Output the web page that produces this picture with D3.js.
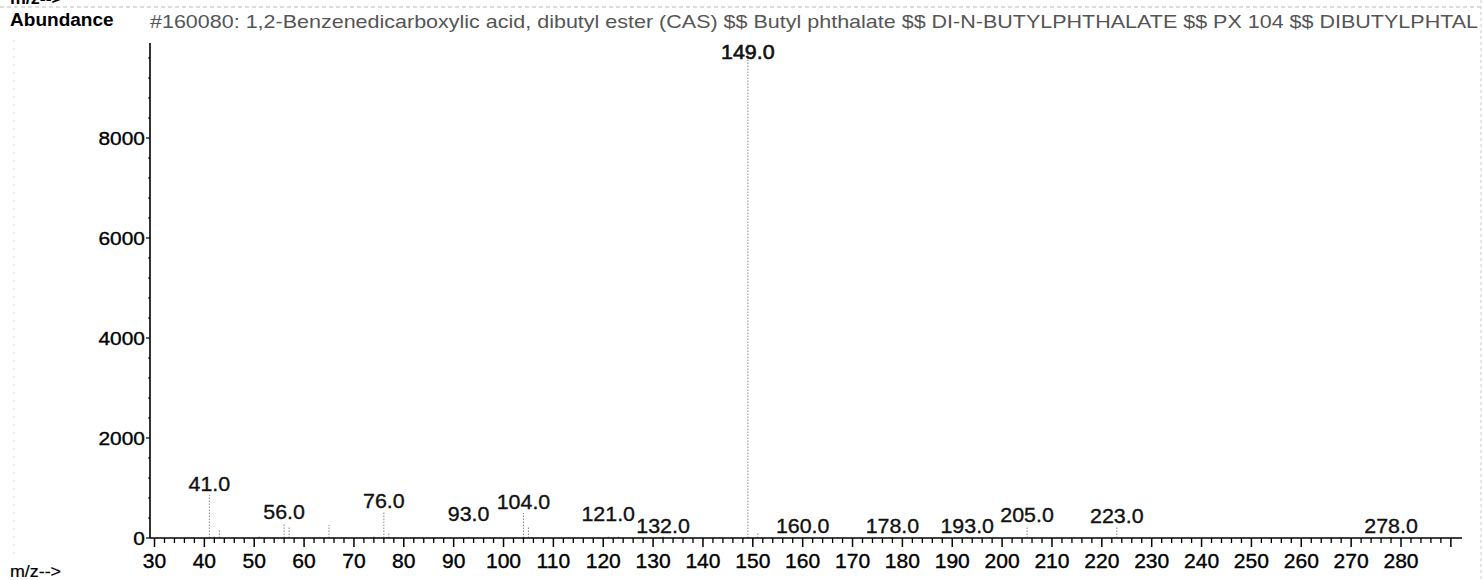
<!DOCTYPE html>
<html><head><meta charset="utf-8">
<script src="https://cdn.jsdelivr.net/npm/d3@7"></script>
<style>
html,body{margin:0;padding:0;background:#fff;}
svg{display:block;font-family:"Liberation Sans",Arial,sans-serif;}
</style></head>
<body><svg id="chart" width="1483" height="580"></svg>
<script>
// ---- data ----
const title = "#160080: 1,2-Benzenedicarboxylic acid, dibutyl ester (CAS) $$ Butyl phthalate $$ DI-N-BUTYLPHTHALATE $$ PX 104 $$ DIBUTYLPHTAL";
const yLabel = "Abundance";
const xLabel = "m/z-->";
const peakMz =        [41, 42, 43, 51, 56, 57, 65, 74, 76, 77, 93, 104, 105, 121, 123, 132, 149, 151, 160, 167, 178, 193, 205, 223, 278];
const peakAbundance = [860, 60, 160, 40, 300, 220, 260, 60, 530, 110, 20, 500, 240, 40, 50, 30, 9999, 90, 20, 20, 20, 20, 240, 230, 20];
const labeledMz = [41, 56, 76, 93, 104, 121, 132, 149, 160, 178, 193, 205, 223, 278];
const xTicks = [30, 40, 50, 60, 70, 80, 90, 100, 110, 120, 130, 140, 150, 160, 170, 180, 190, 200, 210, 220, 230, 240, 250, 260, 270, 280, 290];
const xTickLabels = ["30","40","50","60","70","80","90","100","110","120","130","140","150","160","170","180","190","200","210","220","230","240","250","260","270","280",""];
const yTicks = [0, 2000, 4000, 6000, 8000];

// ---- layout ----
const svg = d3.select("#chart");
const W = 1483, H = 580;
const axisX = 150, axisY = 538, axisTop = 43, axisRight = 1462;
const x = d3.scaleLinear().domain([30, 280]).range([154.5, 1401]);
const y = d3.scaleLinear().domain([0, 8000]).range([axisY, 138]);
const yTopVal = y.invert(axisTop);

svg.append("rect").attr("width", W).attr("height", H).attr("fill", "#fff");

// scan frame lines
svg.append("line").attr("x1", 0).attr("x2", W).attr("y1", 7).attr("y2", 7)
  .attr("stroke", "#bbb").attr("stroke-width", 1).attr("stroke-dasharray", "4,3");
svg.append("line").attr("x1", 1481).attr("x2", 1481).attr("y1", 0).attr("y2", H)
  .attr("stroke", "#ccc").attr("stroke-width", 1).attr("stroke-dasharray", "3,3");
svg.append("line").attr("x1", 14).attr("x2", 14).attr("y1", 40).attr("y2", 560)
  .attr("stroke", "#ddd").attr("stroke-width", 1).attr("stroke-dasharray", "2,6");

function stretchedText(g, tx, ty, txt, size, anchor, sx, weight, fill, sw) {
  const t = g.append("text")
    .attr("transform", `translate(${tx},${ty}) scale(${sx},1)`)
    .attr("text-anchor", anchor)
    .attr("font-size", size)
    .attr("font-weight", weight || "normal")
    .attr("fill", fill || "#000")
    .text(txt);
  if (sw) t.attr("stroke", fill || "#000").attr("stroke-width", sw);
  return t;
}

// top clipped label
stretchedText(svg, 10, 4, xLabel, 17, "start", 1.05, "bold", "#000");

// Abundance
stretchedText(svg, 10, 26, yLabel, 18.5, "start", 1.03, "bold", "#000");

// title
svg.append("text").attr("x", 150).attr("y", 28)
  .attr("font-size", 18.5).attr("fill", "#555")
  .attr("textLength", 1328).attr("lengthAdjust", "spacingAndGlyphs")
  .text(title);

// peaks
const peaks = peakMz.map((m, i) => ({ mz: m, v: peakAbundance[i] }));
svg.append("g").selectAll("line").data(peaks).join("line")
  .attr("x1", d => x(d.mz)).attr("x2", d => x(d.mz))
  .attr("y1", axisY).attr("y2", d => y(Math.min(d.v, yTopVal)))
  .attr("stroke", "#888").attr("stroke-width", 1).attr("stroke-dasharray", "1.5,1.5");

// y axis
svg.append("line").attr("x1", axisX).attr("x2", axisX).attr("y1", axisTop).attr("y2", axisY)
  .attr("stroke", "#000").attr("stroke-width", 1.6);
const yMinor = d3.range(400, yTopVal, 400).filter(v => v % 2000 !== 0);
svg.append("g").selectAll("line").data(yMinor).join("line")
  .attr("x1", axisX - 2).attr("x2", axisX).attr("y1", d => y(d)).attr("y2", d => y(d))
  .attr("stroke", "#000").attr("stroke-width", 1);
const yg = svg.append("g");
yTicks.forEach(t => {
  yg.append("line").attr("x1", axisX - 4).attr("x2", axisX).attr("y1", y(t)).attr("y2", y(t))
    .attr("stroke", "#000").attr("stroke-width", 1.2);
  stretchedText(yg, axisX - 5, y(t) + 7, String(t), 19, "end", 1.1, "normal", "#000", 0.35);
});

// x axis
svg.append("line").attr("x1", axisX).attr("x2", axisRight).attr("y1", axisY).attr("y2", axisY)
  .attr("stroke", "#000").attr("stroke-width", 1.6);
const xMinor = d3.range(30, 291, 2).filter(v => v % 10 !== 0);
svg.append("g").selectAll("line").data(xMinor).join("line")
  .attr("x1", d => x(d)).attr("x2", d => x(d)).attr("y1", axisY).attr("y2", axisY + 5)
  .attr("stroke", "#000").attr("stroke-width", 1.3);
const xg = svg.append("g");
xTicks.forEach((t, i) => {
  xg.append("line").attr("x1", x(t)).attr("x2", x(t)).attr("y1", axisY).attr("y2", axisY + 9)
    .attr("stroke", "#000").attr("stroke-width", 1.5);
  if (xTickLabels[i]) stretchedText(xg, x(t), 568, xTickLabels[i], 19.5, "middle", 1.08, "normal", "#000", 0.35);
});

// x label bottom
stretchedText(svg, 10, 577, xLabel, 17, "start", 1.05, "normal", "#000", 0.2);

// peak labels
const raisedLabels = { 93: 260, 121: 260 };
const lg = svg.append("g");
labeledMz.forEach(m => {
  const p = peaks.find(d => d.mz === m);
  const v = raisedLabels[m] !== undefined ? raisedLabels[m] : p.v;
  let base = Math.min(y(Math.min(v, yTopVal)) - 4, axisY - 5);
  base = Math.max(base, 59);
  stretchedText(lg, x(m), base, m.toFixed(1), 20, "middle", 1.07, "normal", "#111", m === 149 ? 0.6 : 0.35);
});
</script>
</body></html>
